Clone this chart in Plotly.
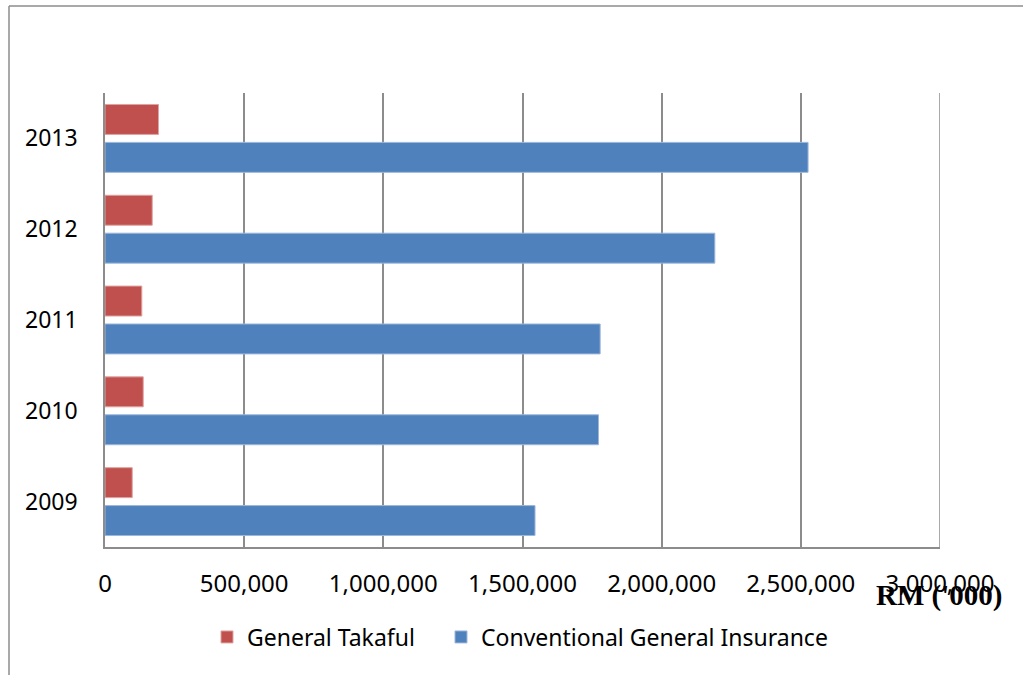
import plotly.graph_objects as go

years = ["2009", "2010", "2011", "2012", "2013"]
conventional = [1545000, 1773000, 1779000, 2191000, 2526000]
takaful = [97800, 137300, 132300, 169700, 192300]
x_ticks = [0, 500000, 1000000, 1500000, 2000000, 2500000, 3000000]
x_tick_labels = ["0", "500,000", "1,000,000", "1,500,000", "2,000,000", "2,500,000", "3,000,000"]

W, H = 1023, 675
L, R, T, B = 105, 83, 93, 128
pw, ph = W - L - R, H - T - B

def px(x):
    return (x - L) / pw

def py(y):
    return (H - B - y) / ph

fig = go.Figure()
fig.add_trace(go.Bar(
    y=years, x=conventional, orientation="h", name="Conventional General Insurance",
    marker=dict(color="#4F81BD", line=dict(color="#9DB7DB", width=1)),
    legend="legend2",
))
fig.add_trace(go.Bar(
    y=years, x=takaful, orientation="h", name="General Takaful",
    marker=dict(color="#C0504D", line=dict(color="#DFA3A1", width=1)),
    legend="legend",
))

font_fam = "Noto Sans, Open Sans, sans-serif"
grid_col = "#8C8C8C"
leg_common = dict(orientation="h", xanchor="left", y=py(637), yanchor="middle",
                  font=dict(size=23, family=font_fam), itemwidth=30,
                  bgcolor="rgba(0,0,0,0)")
fig.update_layout(
    width=W, height=H,
    margin=dict(l=L, r=R, t=T, b=B, autoexpand=False),
    paper_bgcolor="white", plot_bgcolor="white",
    barmode="group", bargap=0.165, bargroupgap=0.21,
    font=dict(family=font_fam, size=23, color="black"),
    showlegend=True,
    legend=dict(x=px(207), **leg_common),
    legend2=dict(x=px(441), **leg_common),
    xaxis=dict(range=[0, 3000000], tickmode="array", tickvals=x_ticks, ticktext=x_tick_labels,
               showgrid=True, gridcolor=grid_col, gridwidth=1.5, zeroline=False,
               showline=True, linecolor=grid_col, linewidth=1.5, ticks="",
               ticklabelstandoff=14, tickfont=dict(size=24, family=font_fam)),
    yaxis=dict(type="category", categoryorder="array", categoryarray=years,
               showgrid=False, zeroline=False, showline=True, linecolor=grid_col,
               linewidth=1.5, ticks="", ticklabelstandoff=21,
               tickfont=dict(size=23, family=font_fam)),
    shapes=[
        dict(type="line", xref="x", yref="paper", x0=3000000, x1=3000000, y0=0, y1=1,
             line=dict(color=grid_col, width=1.5)),
        dict(type="line", xref="paper", yref="paper", x0=px(9), x1=px(1040), y0=py(6), y1=py(6),
             line=dict(color=grid_col, width=1.5)),
        dict(type="line", xref="paper", yref="paper", x0=px(9), x1=px(9), y0=py(6), y1=py(700),
             line=dict(color=grid_col, width=1.5)),
    ],
    annotations=[
        dict(text="<b>RM ('000)</b>", xref="paper", yref="paper", x=px(939), y=py(595),
             xanchor="center", yanchor="middle", showarrow=False,
             font=dict(family="Liberation Serif, Times New Roman, serif", size=29, color="black")),
    ],
)

fig.write_html("out.html")
